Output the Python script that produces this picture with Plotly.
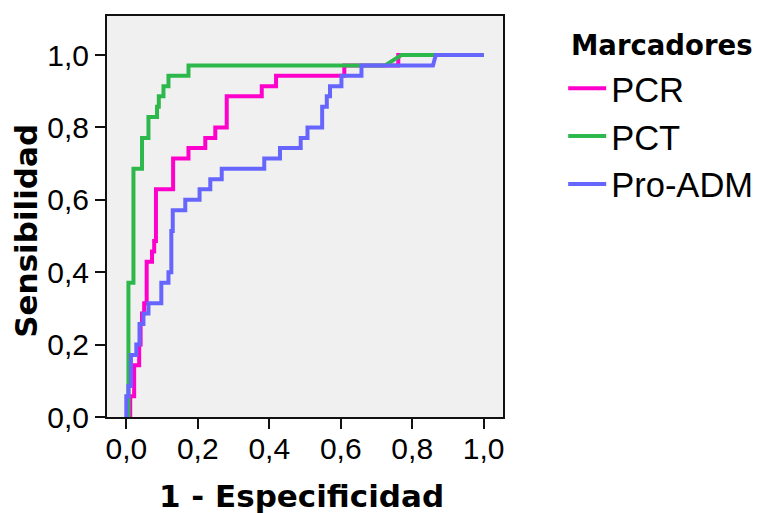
import plotly.graph_objects as go

# ROC curve vertices (1 - especificidad, sensibilidad)
pcr_fpr = [0, 0.011, 0.011, 0.022, 0.022, 0.036, 0.036, 0.040, 0.040, 0.044, 0.044, 0.050, 0.050,
           0.057, 0.057, 0.072, 0.072, 0.078, 0.078, 0.083, 0.083, 0.131, 0.131, 0.174, 0.174,
           0.221, 0.221, 0.249, 0.249, 0.281, 0.281, 0.379, 0.379, 0.419, 0.419, 0.610, 0.610,
           0.761, 0.761, 1.0]
pcr_tpr = [0, 0, 0.057, 0.057, 0.143, 0.143, 0.200, 0.200, 0.257, 0.257, 0.286, 0.286, 0.314,
           0.314, 0.429, 0.429, 0.457, 0.457, 0.486, 0.486, 0.629, 0.629, 0.714, 0.714, 0.743,
           0.743, 0.771, 0.771, 0.800, 0.800, 0.886, 0.886, 0.914, 0.914, 0.943, 0.943, 0.971,
           0.971, 1.0, 1.0]

pct_fpr = [0, 0.006, 0.006, 0.020, 0.020, 0.044, 0.044, 0.062, 0.062, 0.086, 0.086, 0.091, 0.091,
           0.104, 0.104, 0.118, 0.118, 0.174, 0.174, 0.723, 0.770, 1.0]
pct_tpr = [0, 0, 0.371, 0.371, 0.686, 0.686, 0.771, 0.771, 0.829, 0.829, 0.857, 0.857, 0.886,
           0.886, 0.914, 0.914, 0.943, 0.943, 0.971, 0.971, 1.0, 1.0]

adm_fpr = [0, 0, 0.006, 0.006, 0.013, 0.013, 0.028, 0.028, 0.037, 0.037, 0.048, 0.048, 0.062,
           0.062, 0.098, 0.098, 0.118, 0.118, 0.126, 0.126, 0.130, 0.130, 0.165, 0.165, 0.205,
           0.205, 0.235, 0.235, 0.267, 0.267, 0.386, 0.386, 0.430, 0.430, 0.488, 0.488, 0.507,
           0.507, 0.548, 0.548, 0.561, 0.561, 0.570, 0.570, 0.602, 0.602, 0.658, 0.658, 0.858,
           0.866, 1.0]
adm_tpr = [0, 0.057, 0.057, 0.086, 0.086, 0.171, 0.171, 0.200, 0.200, 0.257, 0.257, 0.286, 0.286,
           0.314, 0.314, 0.371, 0.371, 0.400, 0.400, 0.514, 0.514, 0.571, 0.571, 0.600, 0.600,
           0.629, 0.629, 0.657, 0.657, 0.686, 0.686, 0.714, 0.714, 0.743, 0.743, 0.771, 0.771,
           0.800, 0.800, 0.857, 0.857, 0.886, 0.886, 0.914, 0.914, 0.943, 0.943, 0.971, 0.971,
           1.0, 1.0]

series_names = ["PCR", "PCT", "Pro-ADM"]
series_colors = ["#ff00cc", "#2db84b", "#6666ff"]

tick_vals = [0.0, 0.2, 0.4, 0.6, 0.8, 1.0]
tick_text = ["0,0", "0,2", "0,4", "0,6", "0,8", "1,0"]

x_title = "1 - Especificidad"
y_title = "Sensibilidad"
legend_title = "Marcadores"

fig = go.Figure()
for name, color, xs, ys in zip(series_names, series_colors,
                               [pcr_fpr, pct_fpr, adm_fpr], [pcr_tpr, pct_tpr, adm_tpr]):
    fig.add_trace(go.Scatter(x=xs, y=ys, mode="lines", name=name,
                             line=dict(color=color, width=4)))

axis_common = dict(
    showline=True, mirror=True, linecolor="#111111", linewidth=2,
    ticks="outside", ticklen=10, tickwidth=2, tickcolor="#111111",
    showgrid=False, zeroline=False,
    tickvals=tick_vals, ticktext=tick_text,
    tickfont=dict(family="Liberation Sans, Arial", size=30, color="black"),
)

fig.update_layout(
    width=756, height=505,
    margin=dict(l=99, r=261, t=8, b=96, autoexpand=False),
    paper_bgcolor="white", plot_bgcolor="#f0f0f0",
    xaxis=dict(range=[-0.054, 1.054], ticklabelstandoff=-6, **axis_common),
    yaxis=dict(range=[0, 1.108], **axis_common),
    showlegend=True,
    legend=dict(
        x=1.152, y=0.892, xanchor="left", yanchor="top",
        bgcolor="rgba(0,0,0,0)",
        font=dict(family="Liberation Sans, Arial", size=34.5, color="black"),
        itemwidth=38, tracegroupgap=0,
    ),
    annotations=[
        dict(text="<b>" + legend_title + "</b>", xref="paper", yref="paper",
             x=1.166, y=0.927, xanchor="left", yanchor="middle", showarrow=False,
             font=dict(family="DejaVu Sans", size=27.5, color="black")),
        dict(text="<b>" + x_title + "</b>", xref="paper", yref="paper",
             x=0.49, y=-0.197, xanchor="center", yanchor="middle", showarrow=False,
             font=dict(family="DejaVu Sans", size=31, color="black")),
        dict(text="<b>" + y_title + "</b>", xref="paper", yref="paper",
             x=-0.205, y=0.464, xanchor="center", yanchor="middle", showarrow=False,
             textangle=-90,
             font=dict(family="DejaVu Sans", size=31, color="black")),
    ],
)

fig.write_html("out.html")
